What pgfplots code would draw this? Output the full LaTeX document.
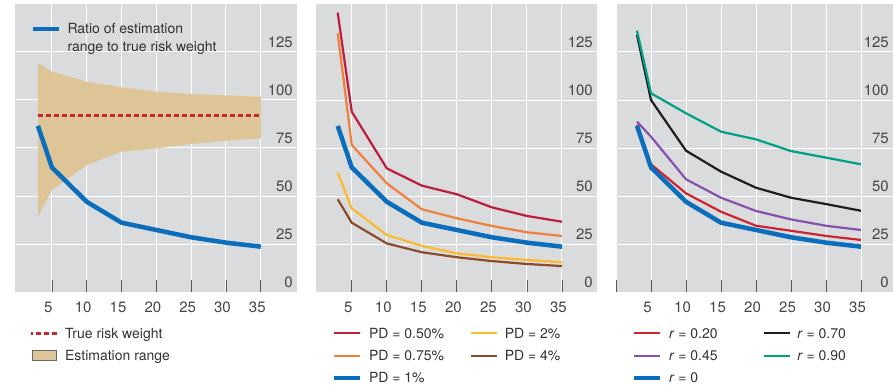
\documentclass[border=0pt]{standalone}
\usepackage{fontspec}
\setmainfont{TeX Gyre Heros}
\usepackage{pgfplots}
\pgfplotsset{compat=1.18}

\definecolor{bggray}{RGB}{218,219,221}
\definecolor{tickgray}{RGB}{90,90,90}
\definecolor{labelgray}{RGB}{70,70,70}
\definecolor{textgray}{RGB}{50,50,50}
\definecolor{bandtan}{RGB}{222,197,152}
\definecolor{cblue}{RGB}{10,110,189}
\definecolor{dashred}{RGB}{196,40,45}
\definecolor{pdred}{RGB}{190,30,60}
\definecolor{pdorange}{RGB}{240,128,60}
\definecolor{pdyellow}{RGB}{252,185,45}
\definecolor{pdbrown}{RGB}{140,74,42}
\definecolor{rred}{RGB}{208,35,48}
\definecolor{rblack}{RGB}{30,30,30}
\definecolor{rpurple}{RGB}{135,80,172}
\definecolor{rgreen}{RGB}{0,160,132}

\pgfplotsset{
  geom/.style={
    scale only axis, height=288pt, ymin=0, ymax=150, anchor=south west,
  },
  panel/.style={
    geom,
    axis background/.style={fill=bggray},
    axis line style={draw=none},
    ytick={0,25,50,75,100,125},
    xtick={5,10,...,35},
    grid=major, major grid style={white, line width=1pt},
    tick align=inside, major tick length=12pt,
    tick pos=left,
    yticklabel pos=right,
    ytick style={draw=none},
    xtick style={draw=tickgray, line width=0.8pt},
    /pgf/number format/assume math mode=true,
    ticklabel style={font=\fontsize{15}{15}\selectfont, text=labelgray, inner sep=0pt},
    yticklabel style={anchor=base east, xshift=-4pt, yshift=4.5pt},
    xticklabel style={anchor=base, yshift=-20pt, xshift=-3.5pt},
    legend cell align=left,
    legend style={draw=none, fill=none, inner sep=0pt, outer sep=0pt,
      at={(axis description cs:0,0)}, anchor=north west, yshift=-35.3pt,
      font=\fontsize{14}{16}\selectfont, text=textgray,
      nodes={inner sep=0pt, text height=11pt, text depth=3pt},
      cells={anchor=base west}, row sep=8.3pt,
      /tikz/every odd column/.append style={column sep=6.5pt}},
    legend image code/.code={\draw[#1] (0pt,5pt) -- (26pt,5pt);},
  },
  thin line/.style={line width=2.2pt, line join=round},
  thick blue/.style={cblue, line width=4.5pt, line join=round},
}

\begin{document}
\begin{tikzpicture}[font=\fontsize{14}{16}\selectfont]
\path[use as bounding box] (0,0) rectangle (893pt,386pt);

% ---------- Panel 1 ----------
\begin{axis}[panel, at={(15pt,94pt)}, width=282pt, xmin=-0.3, xmax=40.2,
  legend style={xshift=15pt}]
\addplot[fill=bandtan, draw=none,
  legend image code/.code={\draw[fill=bandtan, draw=gray!80!black, line width=0.6pt] (1pt,0pt) rectangle (25pt,10pt);}]
  coordinates {(3,119.4)(5,114.8)(10,109.5)(15,106.6)(20,104.3)(25,103.1)(30,102.4)(35,101.7)
               (35,80.0)(30,78.8)(25,77.1)(20,74.8)(15,73.1)(10,66.1)(5,53.1)(3,39.2)} -- cycle;
\addplot[dashred, line width=2.6pt, dash pattern=on 5pt off 3pt]
  coordinates {(3,91.8)(35,91.8)};
\legend{}
\end{axis}

\begin{axis}[panel, at={(15pt,94pt)}, width=282pt, xmin=-0.3, xmax=40.2,
  axis background/.style={}, grid=none, xtick style={draw=none}, xticklabels={}, yticklabels={},
  legend style={xshift=15pt}]
\addlegendimage{dashred, line width=2.6pt, dash pattern=on 5pt off 3pt, dash phase=3pt}
\addlegendentry{True risk weight}
\addlegendimage{legend image code/.code={\draw[fill=bandtan, draw=gray!80!black, line width=0.6pt] (1pt,0pt) rectangle (25pt,10pt);}}
\addlegendentry{Estimation range}
\end{axis}

\begin{axis}[geom, at={(15pt,94pt)}, width=282pt, xmin=-0.3, xmax=40.2, hide axis,
  legend style={draw=none, fill=none, inner sep=0pt, outer sep=0pt,
    at={(axis description cs:0,1)}, anchor=north west, xshift=16pt, yshift=-16.4pt,
    font=\fontsize{14}{18.5}\selectfont, text=textgray,
    nodes={inner sep=0pt}, cells={anchor=base west},
    /tikz/every odd column/.append style={column sep=6pt}},
  legend image code/.code={\draw[#1] (0pt,4.3pt) -- (26pt,4.3pt);}]
\addplot[thick blue] coordinates {(3,86.5)(5,64.9)(10,47.0)(15,36.1)(20,32.3)(25,28.5)(30,25.7)(35,23.6)};
\addlegendentry{\begin{tabular}[t]{@{}l@{}}Ratio of estimation\\range to true risk weight\end{tabular}}
\end{axis}

% ---------- Panel 2 ----------
\begin{axis}[panel, at={(316pt,94pt)}, width=281pt, xmin=-0.1, xmax=40,
  legend columns=2,
  legend style={xshift=16pt, /tikz/every even column/.append style={column sep=26pt}}]
\addplot[pdred, thin line] coordinates {(3,145.5)(5,93.9)(10,64.4)(15,55.4)(20,50.9)(25,44.1)(30,39.6)(35,36.6)};
\addlegendentry{PD = 0.50\%}
\addplot[pdyellow, thin line] coordinates {(3,62.2)(5,43.6)(10,29.7)(15,24.0)(20,20.1)(25,18.1)(30,16.7)(35,15.5)};
\addlegendentry{PD = 2\%}
\addplot[pdorange, thin line] coordinates {(3,134.7)(5,76.6)(10,56.6)(15,43.1)(20,38.4)(25,34.4)(30,31.1)(35,29.2)};
\addlegendentry{PD = 0.75\%}
\addplot[pdbrown, thin line] coordinates {(3,48.3)(5,36.1)(10,25.3)(15,20.7)(20,18.1)(25,16.1)(30,14.6)(35,13.5)};
\addlegendentry{PD = 4\%}
\addplot[thick blue] coordinates {(3,86.5)(5,64.9)(10,47.0)(15,36.1)(20,32.3)(25,28.5)(30,25.7)(35,23.6)};
\addlegendentry{PD = 1\%}
\end{axis}

% ---------- Panel 3 ----------
\begin{axis}[panel, at={(616pt,94pt)}, width=277pt, xmin=0, xmax=39.57,
  xtick={0,5,10,...,35}, xticklabels={{},5,10,15,20,25,30,35},
  legend columns=2,
  legend style={xshift=16pt, /tikz/every even column/.append style={column sep=45pt}}]
\addplot[rred, thin line] coordinates {(3,87.0)(5,66.5)(10,51.4)(15,41.8)(20,34.5)(25,31.9)(30,29.2)(35,27.1)};
\addlegendentry{\textit{r} = 0.20}
\addplot[rblack, thin line] coordinates {(3,133.9)(5,100.0)(10,73.6)(15,62.7)(20,54.3)(25,49.1)(30,45.8)(35,42.3)};
\addlegendentry{\textit{r} = 0.70}
\addplot[rpurple, thin line] coordinates {(3,88.7)(5,80.9)(10,58.7)(15,49.1)(20,42.2)(25,37.8)(30,34.5)(35,32.3)};
\addlegendentry{\textit{r} = 0.45}
\addplot[rgreen, thin line] coordinates {(3,136.1)(5,103.5)(10,93.1)(15,83.5)(20,79.5)(25,73.4)(30,70.0)(35,66.5)};
\addlegendentry{\textit{r} = 0.90}
\addplot[thick blue] coordinates {(3,86.5)(5,64.9)(10,47.0)(15,36.1)(20,32.3)(25,28.5)(30,25.7)(35,23.6)};
\addlegendentry{\textit{r} = 0}
\end{axis}
\end{tikzpicture}
\end{document}
